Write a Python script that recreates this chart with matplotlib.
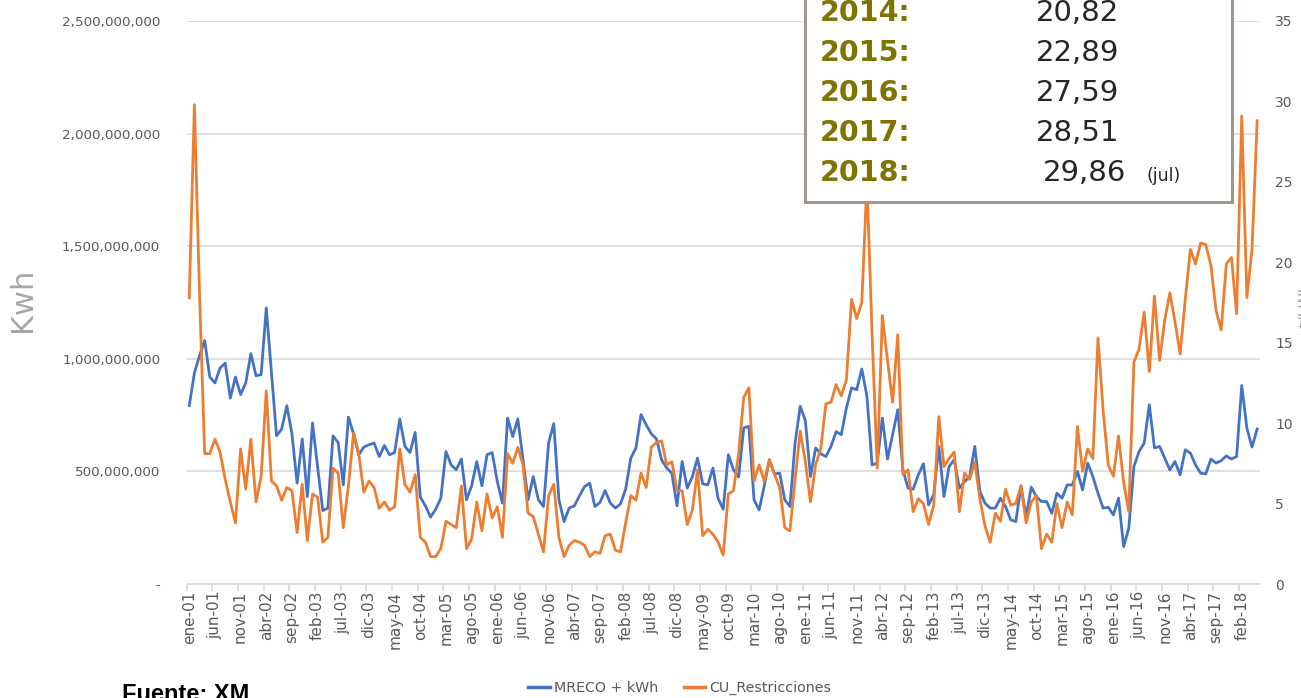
import matplotlib
matplotlib.use("Agg")
import matplotlib.pyplot as plt
from matplotlib.patches import Rectangle
from matplotlib.lines import Line2D
from matplotlib import font_manager
import numpy as np

# ---------------- data ----------------
mreco_mkwh = [
    792, 937, 1014, 1081, 919, 893, 959, 981, 826, 919, 841, 893, 1023, 925, 930, 1226, 944, 658, 688, 792,
    667, 448, 644, 388, 715, 522, 326, 337, 658, 628, 440, 741, 667, 574, 608, 618, 626, 566, 615, 574,
    584, 733,
    611, 584, 673, 386, 347, 297, 332, 381, 588, 529, 507, 555, 374, 436, 544, 436, 574, 584, 455, 359,
    737, 655, 733, 552, 374, 477, 374, 344, 628, 712, 374, 277, 337, 347, 391, 433, 448, 344, 362, 415,
    360,
    337, 356, 421, 559, 604, 752, 707, 667, 644, 552, 515, 492, 347, 544, 426, 477, 559, 445, 440, 515,
    381, 332, 574, 507, 475, 693, 700, 374, 329, 436, 552, 489, 492, 374, 344, 626, 789, 726, 477, 604,
    578, 566,
    611, 677, 663, 782, 871, 863, 955, 833, 529, 537, 737, 555, 663, 774, 507, 426, 421, 485, 534, 351,
    396, 611, 388, 522, 552, 426, 455, 477, 611, 411, 359, 337, 337, 381, 344, 285, 277, 436, 299, 430,
    388, 366,
    366, 314, 403, 381, 440, 440, 500, 418, 537, 477, 403, 337, 341, 307, 381, 166, 248, 522, 588, 626,
    796, 604, 611, 559, 507, 544, 485, 596, 581, 529, 492, 489, 555, 537, 548, 569, 555, 566, 881, 693,
    608, 688,
]
cu_restricciones = [
    17.8, 29.8, 18.0, 8.1, 8.1, 9.0, 8.2, 6.5, 5.1, 3.8, 8.4, 5.9, 9.0, 5.1, 6.7, 12.0, 6.4, 6.1, 5.2, 6.0,
    5.8, 3.2, 6.2, 2.7, 5.6, 5.4, 2.6, 2.9, 7.2, 6.9, 3.5, 6.1, 9.4, 8.1, 5.7, 6.4, 6.0, 4.7, 5.1, 4.6,
    4.8, 8.4,
    6.2, 5.7, 6.8, 2.9, 2.6, 1.7, 1.7, 2.2, 3.9, 3.7, 3.5, 6.1, 2.2, 2.8, 5.1, 3.3, 5.6, 4.1, 4.8, 2.9,
    8.1, 7.5, 8.5, 7.4, 4.4, 4.2, 3.1, 2.0, 5.5, 6.2, 2.9, 1.7, 2.4, 2.7, 2.6, 2.4, 1.7, 2.0, 1.9, 3.0,
    3.1,
    2.1, 2.0, 3.8, 5.5, 5.2, 6.9, 6.0, 8.5, 8.8, 8.9, 7.4, 7.6, 5.8, 5.8, 3.7, 4.6, 7.1, 3.0, 3.4, 3.1,
    2.6, 1.8, 5.6, 5.8, 8.1, 11.6, 12.2, 6.4, 7.4, 6.4, 7.7, 6.8, 6.0, 3.5, 3.3, 6.5, 9.5, 7.6, 5.1, 7.4,
    8.4, 11.2,
    11.3, 12.4, 11.7, 12.7, 17.7, 16.5, 17.5, 25.0, 15.5, 7.2, 16.7, 13.9, 11.3, 15.5, 6.8, 7.1, 4.5, 5.3, 5.0, 3.7,
    4.9, 10.4, 7.3, 7.8, 8.2, 4.5, 6.9, 6.5, 7.6, 5.3, 3.6, 2.6, 4.4, 3.9, 5.9, 4.9, 5.0, 6.1, 3.8, 5.1,
    5.5, 2.2,
    3.1, 2.6, 5.0, 3.5, 5.1, 4.3, 9.8, 7.0, 8.4, 7.8, 15.3, 10.8, 7.4, 6.7, 9.2, 6.3, 4.5, 13.8, 14.6, 16.9,
    13.2, 17.9, 13.9, 16.4, 18.1, 16.3, 14.3, 17.7, 20.8, 19.9, 21.2, 21.1, 19.8, 17.0, 15.8, 19.9, 20.3, 16.8, 29.1, 17.8,
    20.8, 28.8,
]
x_tick_labels = [
    "ene-01", "jun-01", "nov-01", "abr-02", "sep-02", "feb-03", "jul-03", "dic-03", "may-04", "oct-04",
    "mar-05", "ago-05", "ene-06", "jun-06", "nov-06", "abr-07", "sep-07", "feb-08", "jul-08", "dic-08",
    "may-09", "oct-09", "mar-10", "ago-10", "ene-11", "jun-11", "nov-11", "abr-12", "sep-12", "feb-13",
    "jul-13", "dic-13", "may-14", "oct-14", "mar-15", "ago-15", "ene-16", "jun-16", "nov-16", "abr-17",
    "sep-17", "feb-18",
]
left_ticks = [0, 500e6, 1000e6, 1500e6, 2000e6, 2500e6]
left_tick_labels = ["-", "500,000,000", "1,000,000,000", "1,500,000,000", "2,000,000,000", "2,500,000,000"]
right_ticks = [0, 5, 10, 15, 20, 25, 30, 35]
box_years = ["2014:", "2015:", "2016:", "2017:", "2018:"]
box_values = ["20,82", "22,89", "27,59", "28,51", "29,86"]
series_names = ["MRECO + kWh", "CU_Restricciones"]

# ---------------- style ----------------
BLUE = "#4472C4"
ORANGE = "#ED7D31"
GRID = "#D9D9D9"
TXT = "#595959"
W, H = 1301, 698

avail = {f.name for f in font_manager.fontManager.ttflist}
narrow = "Liberation Sans Narrow" if "Liberation Sans Narrow" in avail else "DejaVu Sans"

fig = plt.figure(figsize=(W / 100, H / 100), dpi=100)
L, R, T, B = 186.7, 1259.7, 21, 584
ax = fig.add_axes([L / W, 1 - B / H, (R - L) / W, (B - T) / H])
ax2 = ax.twinx()

n = len(mreco_mkwh)
x = np.arange(n)
ax.plot(x, np.array(mreco_mkwh) * 1e6, color=BLUE, lw=2.0, solid_joinstyle="round")
ax2.plot(x, cu_restricciones, color=ORANGE, lw=2.0, solid_joinstyle="round")

ax.set_xlim(-0.5, n - 0.5)
ax.set_ylim(0, 2.5e9)
ax2.set_ylim(0, 35)

ax.set_yticks(left_ticks)
ax.set_yticklabels(left_tick_labels)
ax2.set_yticks(right_ticks)

for a in (ax, ax2):
    for s in a.spines.values():
        s.set_visible(False)
ax.spines["bottom"].set_visible(True)
ax.spines["bottom"].set_color(GRID)
ax.spines["bottom"].set_linewidth(1.2)

ax.grid(axis="y", color=GRID, lw=1.2)
ax.set_axisbelow(True)

# x ticks: labels at every 5th month, tick marks at category boundaries
major = np.arange(0, n, 5)
ax.set_xticks(major)
ax.set_xticklabels(x_tick_labels, rotation=90, fontsize=11, color=TXT)
ax.set_xticks(major - 0.5, minor=True)
ax.tick_params(axis="x", which="major", length=0, pad=5)
ax.tick_params(axis="x", which="minor", length=5, color=GRID, width=1.2)

ax.tick_params(axis="y", length=0, pad=19, labelsize=9.7, labelcolor=TXT)
ax2.tick_params(axis="y", length=0, pad=11, labelsize=10, labelcolor=TXT)

ax.set_ylabel("Kwh", fontsize=22, color="#A6A6A6")
ax.yaxis.set_label_coords(-(L - 37) / (R - L), (584 - 300) / (B - T))

# cut-off right axis title (also cut in the original)
fig.text(1297 / W, 1 - 305 / H, "$/kWh", rotation=90, ha="left", va="center",
         fontsize=11, color="#A6A6A6")

# legend
handles = [Line2D([], [], color=BLUE, lw=2.5), Line2D([], [], color=ORANGE, lw=2.5)]
fig.legend(handles, series_names, loc="center", bbox_to_anchor=(680 / W, 1 - 688 / H), ncol=2,
           frameon=False, handlelength=1.5, handletextpad=0.3, columnspacing=1.8,
           prop={"family": narrow, "size": 10.3}, labelcolor=TXT)

# Fuente (cut at the bottom edge as in the original)
fig.text(122 / W, 1 - 683 / H, "Fuente: XM", fontsize=17, fontweight="bold", color="#000000",
         ha="left", va="top", family="Liberation Sans")

# annotation box
rect = Rectangle((805 / W, 1 - 202 / H), (1232 - 805) / W, 240 / H, transform=fig.transFigure,
                 facecolor="white", edgecolor="#A0968E", lw=2.2, zorder=10)
fig.add_artist(rect)
row_y = [13, 53, 93, 133, 173]
for yr, val, yy in zip(box_years, box_values, row_y):
    fig.text(820 / W, 1 - yy / H, yr, fontsize=20.5, fontweight="bold", color="#7F7400",
             ha="left", va="center", zorder=11, family="DejaVu Sans")
    xv = 1043 if yr == "2018:" else 1036
    fig.text(xv / W, 1 - yy / H, val, fontsize=21, color="#262626",
             ha="left", va="center", zorder=11, family="DejaVu Sans")
fig.text(1146 / W, 1 - 176 / H, "(jul)", fontsize=12.5, color="#262626",
         ha="left", va="center", zorder=11, family="DejaVu Sans")

fig.savefig("out.png", dpi=100, facecolor="white")
